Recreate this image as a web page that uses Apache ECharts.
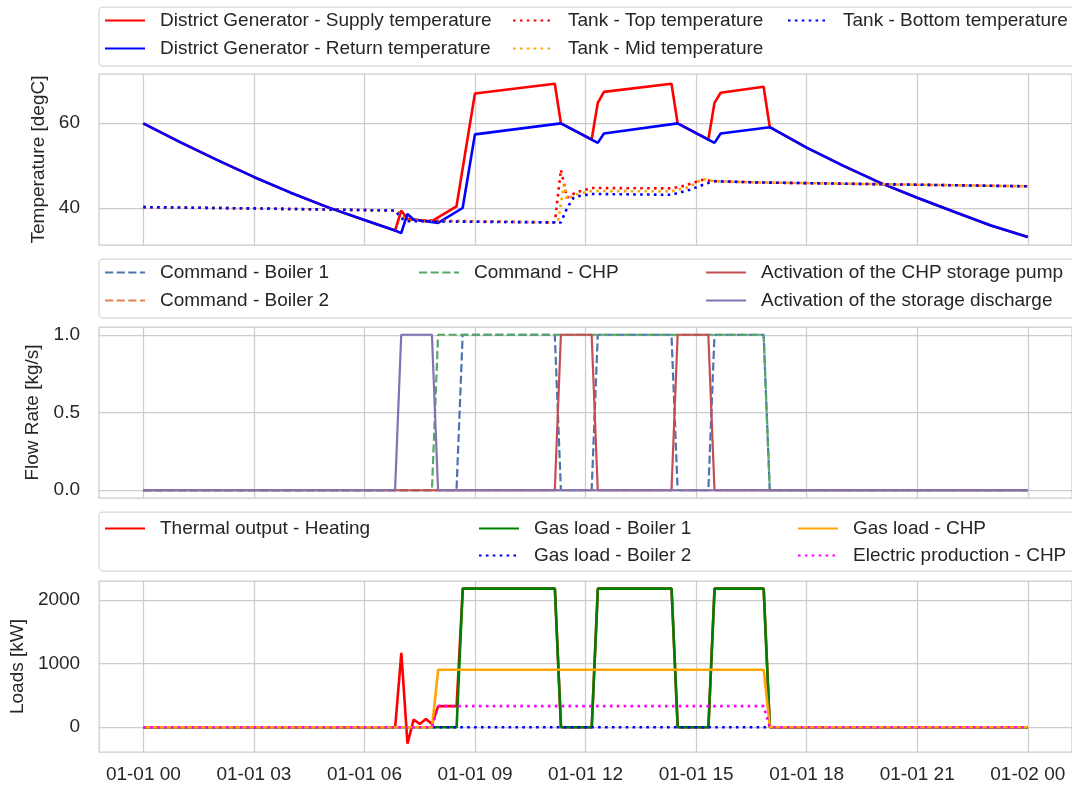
<!DOCTYPE html>
<html><head><meta charset="utf-8">
<script src="https://cdn.jsdelivr.net/npm/echarts@6/dist/echarts.min.js"></script>
<style>html,body{margin:0;padding:0;background:#fff}#c{width:1072px;height:789px}</style>
</head><body><div id="c"></div>
<script>
// ---------- data (hours since 01-01 00:00, value) ----------
const xTicks = [0, 3, 6, 9, 12, 15, 18, 21, 24];
const xTickLabels = ['01-01 00','01-01 03','01-01 06','01-01 09','01-01 12','01-01 15','01-01 18','01-01 21','01-02 00'];
const tempTicks = [40, 60];
const flowTicks = [0, 0.5, 1.0];
const loadTicks = [0, 1000, 2000];

// Panel 1 : temperatures [degC]
const supplyTemp = [[0,59.9],[1,55.5],[2,51.3],[3,47.3],[4,43.6],[5,40.2],[6,37.2],[6.833,34.7],[7.0,39.4],[7.167,37.4],[7.5,37.1],[7.833,36.9],[8.5,40.4],[9.0,66.9],[11.167,69.2],[11.333,59.9],[12.167,56.1],[12.333,64.7],[12.5,67.3],[14.333,69.2],[14.5,59.9],[15.333,56.1],[15.5,64.7],[15.667,67.1],[16.833,68.5],[17.0,59.0],[18,54.2],[19,49.9],[20,45.9],[21,42.4],[22,39.1],[23,35.9],[24,33.2]];
const returnTemp = [[0,59.9],[1,55.5],[2,51.3],[3,47.3],[4,43.6],[5,40.2],[6,37.2],[6.833,34.7],[7.0,34.1],[7.167,38.6],[7.333,37.3],[8.0,36.5],[8.667,40.0],[9.0,57.3],[11.333,59.9],[12.333,55.3],[12.5,57.5],[14.5,59.9],[15.5,55.3],[15.667,57.5],[17.0,59.0],[18,54.2],[19,49.9],[20,45.9],[21,42.4],[22,39.1],[23,35.9],[24,33.2]];
const tankTop = [[0,40.2],[3,39.9],[6.833,39.4],[7.0,38.5],[7.167,37.2],[8,37.0],[11.167,36.6],[11.333,49.0],[11.5,42.4],[11.667,43.3],[11.833,43.9],[12.167,44.7],[14.333,44.6],[14.667,45.2],[15.167,46.6],[15.5,46.3],[16.7,46.0],[24,45.1]];
const tankMid = [[0,40.2],[3,39.9],[6.833,39.4],[7.0,38.0],[7.167,37.0],[11.25,36.6],[11.417,45.5],[11.5,42.0],[11.667,43.0],[12.167,44.0],[14.333,43.9],[14.833,45.0],[15.167,46.8],[15.5,46.3],[16.7,46.0],[24,45.1]];
const tankBottom = [[0,40.2],[3,39.9],[6.833,39.4],[7.0,37.6],[7.167,36.9],[11.333,36.6],[11.5,40.0],[11.667,42.3],[11.833,42.8],[12.167,43.3],[14.333,43.1],[14.833,44.3],[15.333,45.9],[15.5,46.3],[16.7,46.0],[24,45.1]];

// Panel 2 : flow rate / commands [kg/s]
const cmdBoiler1 = [[0,0],[8.5,0],[8.667,1],[11.167,1],[11.333,0],[12.167,0],[12.333,1],[14.333,1],[14.5,0],[15.333,0],[15.5,1],[16.833,1],[17.0,0],[24,0]];
const cmdBoiler2 = [[0,0],[24,0]];
const cmdCHP = [[0,0],[7.833,0],[8.0,1],[16.833,1],[17.0,0],[24,0]];
const pumpCHP = [[0,0],[11.167,0],[11.333,1],[12.167,1],[12.333,0],[14.333,0],[14.5,1],[15.333,1],[15.5,0],[24,0]];
const storageDischarge = [[0,0],[6.833,0],[7.0,1],[7.833,1],[8.0,0],[24,0]];

// Panel 3 : loads [kW]
const thermalHeating = [[0,0],[6.833,0],[7.0,1170],[7.167,-260],[7.333,120],[7.5,50],[7.667,130],[7.833,50],[8.0,332],[8.5,332],[8.667,2180],[11.167,2180],[11.333,0],[12.167,0],[12.333,2180],[14.333,2180],[14.5,0],[15.333,0],[15.5,2180],[16.833,2180],[17.0,0],[24,0]];
const gasBoiler1 = [[0,0],[8.5,0],[8.667,2180],[11.167,2180],[11.333,0],[12.167,0],[12.333,2180],[14.333,2180],[14.5,0],[15.333,0],[15.5,2180],[16.833,2180],[17.0,0],[24,0]];
const gasBoiler2 = [[0,0],[24,0]];
const gasCHP = [[0,0],[7.833,0],[8.0,905],[16.833,905],[17.0,0],[24,0]];
const elecCHP = [[0,0],[7.833,0],[8.0,332],[16.833,332],[17.0,0],[24,0]];

// ---------- layout / style ----------
const FONT = 'Liberation Sans, Arial, sans-serif';
const TXT = '#262626';
const GRIDC = '#cccccc';
const FRAME_L = 99, FRAME_W = 977;
const panels = [
  {top: 74, height: 171, min: 31.3, max: 71.5, ticks: tempTicks, name: 'Temperature [degC]', gap: 44, fmt: v => String(v)},
  {top: 327, height: 171, min: -0.05, max: 1.05, ticks: flowTicks, name: 'Flow Rate [kg/s]', gap: 49, fmt: v => v.toFixed(1)},
  {top: 581, height: 171, min: -390, max: 2300, ticks: loadTicks, name: 'Loads [kW]', gap: 66, fmt: v => String(v)}
];

const grid = panels.map(p => ({left: FRAME_L, top: p.top, width: FRAME_W, height: p.height, show: true,
  borderColor: GRIDC, borderWidth: 1.25, backgroundColor: 'transparent', containLabel: false}));

const xAxis = panels.map((p, i) => ({
  type: 'value', gridIndex: i, min: -1.2, max: 25.2,
  axisLine: {show: false},
  axisTick: {show: false, customValues: xTicks},
  splitLine: {show: true, lineStyle: {color: GRIDC, width: 1.25}},
  axisLabel: {show: i === 2, customValues: xTicks, margin: 13, fontSize: 19, color: TXT, fontFamily: FONT,
    formatter: v => xTickLabels[xTicks.indexOf(Math.round(v))] || ''}
}));

const yAxis = panels.map((p, i) => ({
  type: 'value', gridIndex: i, min: p.min, max: p.max,
  axisLine: {show: false},
  axisTick: {show: false, customValues: p.ticks},
  splitLine: {show: true, lineStyle: {color: GRIDC, width: 1.25}},
  axisLabel: {customValues: p.ticks, margin: 19, fontSize: 19, color: TXT, fontFamily: FONT, formatter: p.fmt},
  name: p.name, nameLocation: 'middle', nameGap: p.gap,
  nameTextStyle: {fontSize: 19, color: TXT, fontFamily: FONT}
}));

const DOT = w => [w * 1, w * 1.65];
const DASH = w => [w * 3.7, w * 1.6];

function mk(name, data, idx, color, width, type) {
  return {name, type: 'line', data, xAxisIndex: idx, yAxisIndex: idx,
    symbol: 'none', showSymbol: false, animation: false, clip: true,
    lineStyle: {color, width, type: type || 'solid', cap: 'butt'},
    itemStyle: {color}, emphasis: {disabled: true}};
}

const series = [
  mk('District Generator - Supply temperature', supplyTemp, 0, '#ff0000', 2.6),
  mk('District Generator - Return temperature', returnTemp, 0, '#0000ff', 2.6),
  mk('Tank - Top temperature', tankTop, 0, '#ff0000', 2.6, DOT(2.6)),
  mk('Tank - Mid temperature', tankMid, 0, '#ffa500', 2.6, DOT(2.6)),
  mk('Tank - Bottom temperature', tankBottom, 0, '#0000ff', 2.6, DOT(2.6)),
  mk('Command - Boiler 1', cmdBoiler1, 1, '#4c72b0', 2.2, DASH(2.2)),
  mk('Command - Boiler 2', cmdBoiler2, 1, '#dd8452', 2.2, DASH(2.2)),
  mk('Command - CHP', cmdCHP, 1, '#55a868', 2.2, DASH(2.2)),
  mk('Activation of the CHP storage pump', pumpCHP, 1, '#c44e52', 2.2),
  mk('Activation of the storage discharge', storageDischarge, 1, '#8172b3', 2.2),
  mk('Thermal output - Heating', thermalHeating, 2, '#ff0000', 2.6),
  mk('Gas load - Boiler 1', gasBoiler1, 2, '#008000', 2.6),
  mk('Gas load - Boiler 2', gasBoiler2, 2, '#0000ff', 2.6, DOT(2.6)),
  mk('Gas load - CHP', gasCHP, 2, '#ffa500', 2.6),
  mk('Electric production - CHP', elecCHP, 2, '#ff00ff', 2.6, DOT(2.6))
];

// legend placement: [name, handle-left x, row-center y]
const legendPlacement = [
  ['District Generator - Supply temperature', 104, 21], ['District Generator - Return temperature', 104, 49],
  ['Tank - Top temperature', 512, 21], ['Tank - Mid temperature', 512, 49],
  ['Tank - Bottom temperature', 787, 21],
  ['Command - Boiler 1', 104, 273], ['Command - Boiler 2', 104, 301],
  ['Command - CHP', 418, 273],
  ['Activation of the CHP storage pump', 705, 273], ['Activation of the storage discharge', 705, 301],
  ['Thermal output - Heating', 104, 529],
  ['Gas load - Boiler 1', 478, 529], ['Gas load - Boiler 2', 478, 556],
  ['Gas load - CHP', 797, 529], ['Electric production - CHP', 797, 556]
];
const legend = legendPlacement.map(([n, x, y]) => ({
  data: [n], left: x, top: y - 10, padding: 0, itemWidth: 40, itemHeight: 20,
  selectedMode: false,
  itemStyle: {opacity: 0},
  textStyle: {fontSize: 19, color: TXT, fontFamily: FONT, padding: [0, 0, 0, 10]}
}));

const legendBoxes = [7, 259, 512].map(y => ({
  type: 'rect', shape: {x: FRAME_L, y: y, width: 1000, height: 59, r: 4},
  style: {fill: '#ffffff', stroke: '#d6d6d6', lineWidth: 1.25}, z: 0
}));

const chart = echarts.init(document.getElementById('c'), null, {renderer: 'canvas'});
chart.setOption({
  backgroundColor: '#ffffff',
  animation: false,
  textStyle: {fontFamily: FONT},
  grid, xAxis, yAxis, series, legend,
  graphic: legendBoxes
});
</script></body></html>
